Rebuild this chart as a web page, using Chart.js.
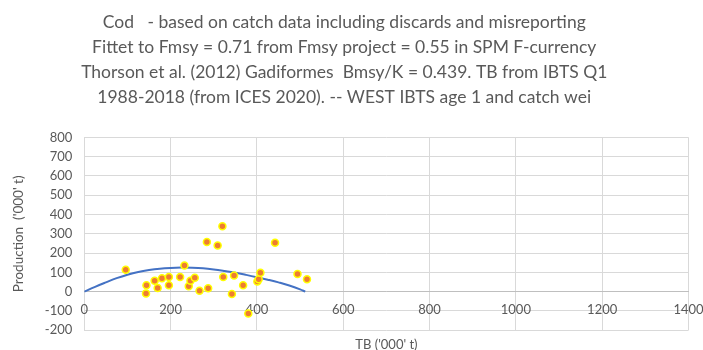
<!DOCTYPE html>
<html>
<head>
<meta charset="utf-8">
<script src="https://cdn.jsdelivr.net/npm/chart.js@4.4.1/dist/chart.umd.min.js"></script>
<style>
  body { margin: 0; background: #fff; }
</style>
</head>
<body>
<canvas id="chart" width="703" height="350"></canvas>
<script>
// observed points: total biomass vs surplus production ('000 t)
const tbValues = [96, 144, 143, 163, 170, 180, 196, 196, 222, 232, 242, 246, 256, 267, 284, 287, 309, 320, 322, 342, 347, 368, 380, 401, 404, 408, 442, 494, 516];
const productionValues = [114, 33, -9, 57, 19, 69, 76, 33, 76, 136, 28, 57, 72, 5, 257, 17, 239, 339, 76, -12, 84, 33, -113, 53, 64, 98, 253, 91, 64];

// fitted production curve
const curveTB = [0, 25, 50, 75, 100, 125, 150, 175, 200, 225, 250, 275, 300, 325, 350, 375, 400, 425, 450, 475, 500, 512];
const curveProd = [0, 25, 48, 70, 88, 102, 112, 119, 123, 125, 124, 121, 115, 107, 98, 87, 75, 62, 48, 32, 12, 0];

const titleLines = [
  "Cod   - based on catch data including discards and misreporting",
  "Fittet to Fmsy = 0.71 from Fmsy project = 0.55 in SPM F-currency",
  "Thorson et al. (2012) Gadiformes  Bmsy/K = 0.439. TB from IBTS Q1",
  "1988-2018 (from ICES 2020). -- WEST IBTS age 1 and catch wei"
];

const grey = '#595959';
const fontName = 'Lato, "Open Sans", sans-serif';

function plainNumber(value) {
  return String(value);
}

const ctx = document.getElementById('chart').getContext('2d');
const myChart = new Chart(ctx, {
  type: 'scatter',
  data: {
    datasets: [
      {
        label: 'Observed',
        data: tbValues.map(function (x, i) { return { x: x, y: productionValues[i] }; }),
        backgroundColor: '#ED7D31',
        borderColor: '#FFFF00',
        borderWidth: 1.5,
        pointRadius: 3.5,
        order: 1
      },
      {
        label: 'Fitted',
        type: 'line',
        data: curveTB.map(function (x, i) { return { x: x, y: curveProd[i] }; }),
        borderColor: '#4472C4',
        borderWidth: 2,
        pointRadius: 0,
        tension: 0.4,
        fill: false,
        order: 2
      }
    ]
  },
  options: {
    responsive: false,
    animation: false,
    layout: { padding: { left: 0, right: 14.5, top: 0, bottom: 19 } },
    plugins: {
      legend: { display: false },
      tooltip: { enabled: false },
      title: {
        display: true,
        text: titleLines,
        color: grey,
        font: { family: fontName, size: 17.5, weight: 'normal', lineHeight: 1.43 },
        padding: { top: 9.5, bottom: 27.8 }
      }
    },
    scales: {
      x: {
        type: 'linear',
        position: { y: 0 },
        min: 0,
        max: 1400,
        ticks: { stepSize: 200, color: grey, padding: 10, callback: plainNumber, font: { family: fontName, size: 13 } },
        grid: { color: '#D9D9D9', drawTicks: false },
        border: { color: '#BFBFBF' },
        title: {
          display: true,
          text: "TB ('000' t)",
          color: grey,
          font: { family: fontName, size: 13 },
          padding: { top: 10, bottom: 0 }
        },
        afterFit: function (scale) {
          scale.paddingLeft = 0;
          scale.paddingRight = 0;
        }
      },
      y: {
        min: -200,
        max: 800,
        ticks: { stepSize: 100, color: grey, padding: 12, callback: plainNumber, font: { family: fontName, size: 13 } },
        grid: { color: '#D9D9D9', drawTicks: false },
        border: { display: false },
        title: {
          display: true,
          text: "Production  ('000' t)",
          color: grey,
          font: { family: fontName, size: 13.5 },
          padding: { top: 11, bottom: 0 }
        },
        afterFit: function (scale) { scale.width = 84.3; }
      }
    }
  }
});
</script>
</body>
</html>
